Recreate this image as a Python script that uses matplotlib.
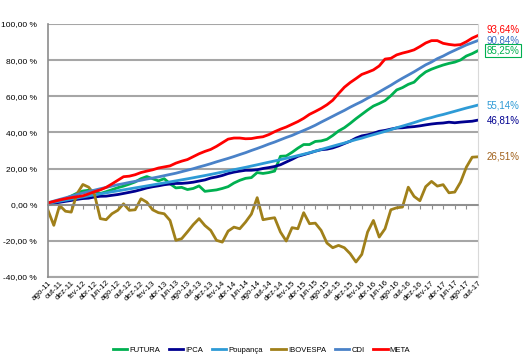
import numpy as np
import matplotlib.pyplot as plt
from matplotlib.ticker import FuncFormatter

plt.rcParams['font.family'] = ['Liberation Sans', 'DejaVu Sans']

# every second month, ago-11 .. out-17
month_labels = ["ago-11", "out-11", "dez-11", "fev-12", "abr-12", "jun-12", "ago-12", "out-12",
                "dez-12", "fev-13", "abr-13", "jun-13", "ago-13", "out-13", "dez-13", "fev-14",
                "abr-14", "jun-14", "ago-14", "out-14", "dez-14", "fev-15", "abr-15", "jun-15",
                "ago-15", "out-15", "dez-15", "fev-16", "abr-16", "jun-16", "ago-16", "out-16",
                "dez-16", "fev-17", "abr-17", "jun-17", "ago-17", "out-17"]

# accumulated return (%) month by month
futura = [0.0, 0.8, 1.8, 3.3, 4.8, 6.4, 7.6, 8.0, 7.4, 6.2,
          7.2, 8.3, 9.4, 10.3, 11.4, 12.6, 14.4, 15.6, 14.4, 13.2,
          14.4, 11.6, 9.3, 9.6, 8.4, 9.0, 10.4, 7.4, 7.8, 8.2,
          9.0, 10.0, 12.0, 13.5, 14.6, 15.0, 17.8, 17.3, 17.8, 18.6,
          26.8, 27.0, 29.0, 31.3, 33.3, 33.3, 35.0, 35.3, 36.2, 38.3,
          40.8, 42.6, 45.0, 47.6, 50.0, 52.4, 54.6, 56.0, 57.6, 60.3,
          63.5, 64.8, 66.6, 67.8, 71.0, 73.5, 75.0, 76.2, 77.3, 78.2,
          78.9, 80.1, 82.3, 83.6, 85.25]

ipca = [0.37, 0.90, 1.34, 1.86, 2.37, 2.95, 3.41, 3.63, 4.29, 4.66,
        4.75, 5.20, 5.63, 6.23, 6.86, 7.50, 8.35, 9.28, 9.94, 10.45,
        11.06, 11.47, 11.76, 11.79, 12.06, 12.46, 13.10, 13.71, 14.75, 15.38,
        16.18, 17.25, 18.03, 18.58, 19.05, 19.06, 19.36, 20.04, 20.55, 21.16,
        22.11, 23.62, 25.13, 26.78, 27.68, 28.62, 29.64, 30.44, 30.73, 31.44,
        32.52, 33.85, 35.14, 36.86, 38.09, 38.68, 39.53, 40.62, 41.11, 41.84,
        42.47, 42.58, 42.95, 43.21, 43.64, 44.18, 44.66, 45.02, 45.22, 45.67,
        45.34, 45.69, 45.96, 46.20, 46.81]

poupanca = [0.69, 1.33, 1.92, 2.48, 3.07, 3.69, 4.26, 4.90, 5.44, 6.02,
            6.55, 7.14, 7.68, 8.22, 8.76, 9.31, 9.85, 10.40, 10.95, 11.51,
            12.07, 12.63, 13.19, 13.76, 14.33, 14.92, 15.54, 16.14, 16.77, 17.42,
            18.10, 18.73, 19.38, 20.04, 20.69, 21.40, 22.09, 22.82, 23.53, 24.21,
            24.94, 25.68, 26.38, 27.19, 27.97, 28.76, 29.62, 30.57, 31.47, 32.38,
            33.28, 34.13, 35.11, 36.02, 36.84, 37.84, 38.75, 39.65, 40.57, 41.54,
            42.57, 43.51, 44.46, 45.43, 46.48, 47.45, 48.23, 49.16, 49.92, 50.81,
            51.70, 52.60, 53.50, 54.30, 55.14]

ibovespa = [-3.1, -11.4, -0.4, -3.6, -4.1, 6.1, 11.2, 9.7, 5.7, -7.7,
            -8.3, -5.0, -3.1, 0.5, -3.1, -2.8, 3.3, 1.4, -2.8, -4.4,
            -5.0, -8.7, -19.7, -18.8, -15.0, -11.0, -7.7, -11.5, -14.2, -19.7,
            -20.7, -14.6, -12.4, -13.3, -9.6, -5.2, 3.9, -8.3, -7.7, -7.2,
            -15.1, -20.1, -12.7, -13.3, -4.4, -10.5, -10.2, -14.2, -21.2, -23.8,
            -22.5, -23.8, -27.1, -31.7, -27.5, -15.1, -8.7, -17.9, -13.3, -2.8,
            -1.7, -1.3, 9.7, 4.6, 2.2, 10.0, 12.9, 10.3, 11.1, 6.6,
            7.0, 12.5, 20.8, 26.3, 26.51]

cdi = [1.07, 2.02, 2.92, 3.80, 4.74, 5.67, 6.45, 7.31, 8.06, 8.85,
       9.55, 10.30, 11.06, 11.66, 12.34, 12.94, 13.54, 14.21, 14.76, 15.38,
       16.07, 16.75, 17.43, 18.27, 19.10, 19.93, 20.89, 21.75, 22.70, 23.73,
       24.69, 25.64, 26.66, 27.75, 28.80, 30.01, 31.12, 32.30, 33.55, 34.67,
       35.95, 37.21, 38.34, 39.76, 41.09, 42.47, 43.98, 45.68, 47.30, 48.94,
       50.59, 52.18, 53.95, 55.57, 57.12, 58.94, 60.61, 62.40, 64.28, 66.10,
       68.11, 69.98, 71.76, 73.55, 75.49, 77.41, 78.95, 80.83, 82.26, 83.95,
       85.44, 86.93, 88.42, 89.63, 90.84]

meta = [1.0, 1.8, 2.6, 3.3, 3.9, 4.4, 4.9, 6.0, 7.2, 8.2,
        9.6, 11.5, 13.5, 15.5, 15.8, 16.6, 17.8, 18.6, 19.3, 20.3,
        20.9, 21.5, 23.0, 24.1, 25.0, 26.6, 28.2, 29.5, 30.6, 32.3,
        34.3, 36.3, 36.9, 36.9, 36.5, 36.6, 37.2, 37.6, 38.8, 40.4,
        41.8, 43.0, 44.5, 46.0, 47.8, 50.0, 51.6, 53.3, 55.3, 57.8,
        61.5, 65.0, 67.6, 69.8, 72.1, 73.3, 74.6, 76.8, 80.6, 81.0,
        82.9, 83.9, 84.7, 85.7, 87.5, 89.5, 90.8, 90.8, 89.3, 88.7,
        88.3, 88.6, 90.2, 92.2, 93.64]

series = [
    ("FUTURA", futura, "#00B050", "#00B050"),
    ("IPCA", ipca, "#000090", "#000090"),
    ("Poupança", poupanca, "#2E9BD6", "#2E9BD6"),
    ("IBOVESPA", ibovespa, "#A0801A", "#A0601A"),
    ("CDI", cdi, "#4A82C8", "#3A6FC4"),
    ("META", meta, "#FF0000", "#FF0000"),
]

x = np.arange(len(cdi))

fig = plt.figure(figsize=(5.23, 3.61), dpi=100)
ax = fig.add_axes([48 / 523, 1 - 277 / 361, 430 / 523, 253 / 361])

for name, vals, color, _ in series:
    ax.plot(x, vals, color=color, lw=2.0, label=name)

ax.set_xlim(0, len(cdi) - 1)
ax.set_ylim(-40, 100)
ax.set_yticks(np.arange(-40, 101, 20))
ax.yaxis.set_major_formatter(FuncFormatter(lambda v, p: f"{v:.2f}".replace(".", ",") + " %"))
ax.yaxis.grid(True, color="#A6A6A6", lw=1.5)
ax.set_axisbelow(True)
ax.tick_params(axis="y", length=0, pad=8, labelsize=6.0)

ax.spines["top"].set_visible(False)
ax.spines["right"].set_color("#D9D9D9")
ax.spines["left"].set_color("#8C8C8C")
ax.spines["left"].set_linewidth(1.2)
ax.spines["bottom"].set_position(("data", 0))
ax.spines["bottom"].set_color("#8C8C8C")
ax.spines["bottom"].set_linewidth(1.2)

tick_pos = np.arange(0, len(cdi), 2)
ax.set_xticks(tick_pos)
ax.tick_params(axis="x", direction="out", length=3, color="#8C8C8C", labelbottom=False)

sec = ax.secondary_xaxis("bottom")
sec.set_ticks(tick_pos, labels=month_labels, rotation=45, ha="right",
              rotation_mode="anchor", fontsize=5.8)
sec.tick_params(length=0, pad=2)
sec.spines["bottom"].set_color("#A6A6A6")
sec.spines["bottom"].set_linewidth(1.5)

# value labels at the end of each line
for name, vals, _, tcolor in series:
    dy = 4 if name == "META" else 0
    box = None
    if name == "FUTURA":
        box = dict(boxstyle="square,pad=0.15", fc="white", ec="#00B050", lw=0.8)
    ax.annotate(f"{vals[-1]:.2f}%".replace(".", ","), xy=(x[-1], vals[-1]),
                xytext=(6, dy), textcoords="offset points", color=tcolor,
                fontsize=7, va="center", ha="left", bbox=box, annotation_clip=False)

fig.legend(loc="lower center", bbox_to_anchor=(0.5, 0.0), ncol=6, frameon=False,
           fontsize=5.5, handlelength=1.9, handletextpad=0.3, columnspacing=1.1)

fig.savefig("out.png", dpi=100)
